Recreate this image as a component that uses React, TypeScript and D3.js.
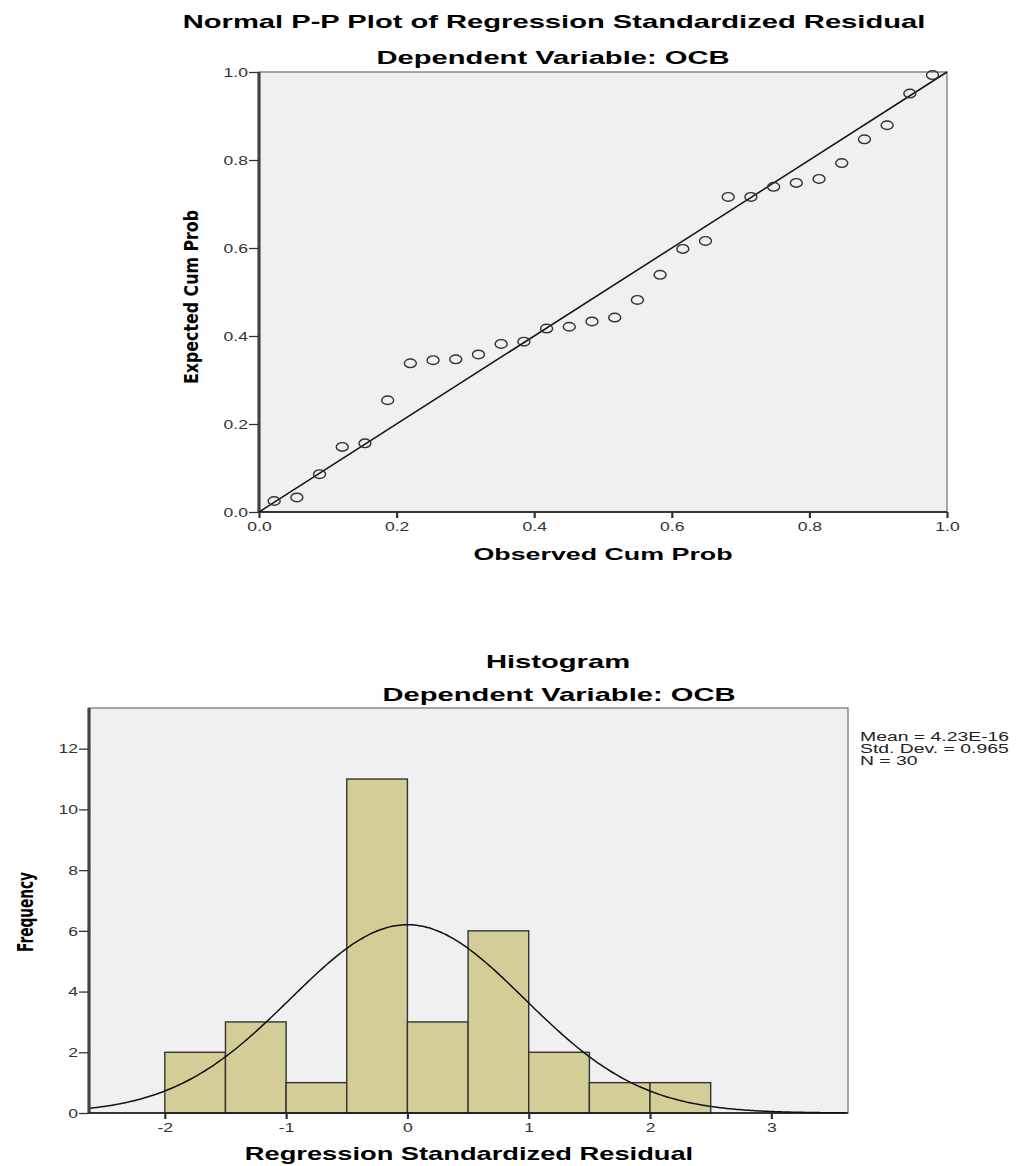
import React, { useRef, useEffect } from "react";
import * as d3 from "d3";

// P-P plot data
const ppObserved = [
  0.022, 0.055, 0.088, 0.121, 0.154, 0.187, 0.22, 0.253, 0.286, 0.319,
  0.352, 0.385, 0.418, 0.451, 0.484, 0.517, 0.55, 0.583, 0.616, 0.649,
  0.682, 0.715, 0.748, 0.781, 0.814, 0.847, 0.88, 0.913, 0.946, 0.979
];
const ppExpected = [
  0.025, 0.033, 0.086, 0.148, 0.156, 0.254, 0.338, 0.345, 0.347, 0.358,
  0.382, 0.387, 0.417, 0.421, 0.433, 0.442, 0.482, 0.539, 0.598, 0.616,
  0.716, 0.716, 0.739, 0.748, 0.757, 0.793, 0.847, 0.879, 0.951, 0.993
];
const ppTicks = [0, 0.2, 0.4, 0.6, 0.8, 1.0];

// histogram data
const binStarts = [-2, -1.5, -1, -0.5, 0, 0.5, 1, 1.5, 2];
const binCounts = [2, 3, 1, 11, 3, 6, 2, 1, 1];
const binWidth = 0.5;
const histXTicks = [-2, -1, 0, 1, 2, 3];
const histYTicks = [0, 2, 4, 6, 8, 10, 12];
const statLabels = ["Mean = 4.23E-16", "Std. Dev. = 0.965", "N = 30"];
const resMean = 4.23e-16;
const resSd = 0.965;
const resN = 30;

const SX = 1.55; // the original picture is stretched horizontally
const TICK_SX = 1.35;
const FONT = "'Liberation Sans', Arial, sans-serif";
const NARROW = "'Liberation Sans Narrow', 'DejaVu Sans Condensed', 'Arial Narrow', sans-serif";
const BG = "#f0f0f0";
const BAR = "#d3ce97";

export default function App() {
  const ref = useRef<SVGSVGElement>(null);

  useEffect(() => {
    const svg = d3.select(ref.current);
    svg.selectAll("*").remove();

    // stretched text helper
    const label = (g, txt, x, y, size, opts: any = {}) =>
      g
        .append("text")
        .text(txt)
        .attr("transform", `translate(${x},${y}) scale(${opts.sx ?? SX},1)`)
        .attr("text-anchor", opts.anchor ?? "middle")
        .attr("font-family", FONT)
        .attr("font-weight", opts.weight ?? "bold")
        .attr("font-size", size)
        .attr("fill", opts.fill ?? "#000");

    const vLabel = (g, txt, x, y, size, len) =>
      g
        .append("text")
        .text(txt)
        .attr("transform", `translate(${x},${y}) rotate(-90)`)
        .attr("text-anchor", "middle")
        .attr("font-family", NARROW)
        .attr("font-weight", "bold")
        .attr("font-size", size)
        .attr("textLength", len)
        .attr("lengthAdjust", "spacingAndGlyphs");

    const styleAxis = (ax, vertical) => {
      ax.select(".domain").remove();
      ax.selectAll(".tick line").attr("stroke", "#333").attr("stroke-width", vertical ? 1.3 : 2.2);
      ax.selectAll(".tick text")
        .attr("font-family", FONT)
        .attr("font-size", 13)
        .attr("fill", "#333");
    };

    const frame = (g, x0, x1, y0, y1) => {
      g.append("rect")
        .attr("x", x0).attr("y", y0)
        .attr("width", x1 - x0).attr("height", y1 - y0)
        .attr("fill", BG)
        .attr("stroke", "#777")
        .attr("stroke-width", 1.3);
    };
    const axisLines = (g, x0, x1, y0, y1) => {
      g.append("line").attr("x1", x0).attr("x2", x0).attr("y1", y0).attr("y2", y1)
        .attr("stroke", "#444").attr("stroke-width", 3.2);
      g.append("line").attr("x1", x0).attr("x2", x1).attr("y1", y1).attr("y2", y1)
        .attr("stroke", "#111").attr("stroke-width", 1.6);
    };

    // ---------- Normal P-P plot ----------
    const pp = svg.append("g");
    const px = d3.scaleLinear().domain([0, 1]).range([259, 947]);
    const py = d3.scaleLinear().domain([0, 1]).range([512, 72]);

    label(pp, "Normal P-P Plot of Regression Standardized Residual", 554, 28, 18.8);
    label(pp, "Dependent Variable: OCB", 553, 64, 18.8);

    frame(pp, px(0), px(1), py(1), py(0));

    pp.append("line")
      .attr("x1", px(0)).attr("y1", py(0))
      .attr("x2", px(1)).attr("y2", py(1))
      .attr("stroke", "#111").attr("stroke-width", 1.5);

    pp.append("g")
      .selectAll("ellipse")
      .data(ppObserved.map((o, i) => [o, ppExpected[i]]))
      .join("ellipse")
      .attr("cx", (d) => px(d[0]))
      .attr("cy", (d) => py(d[1]))
      .attr("rx", 6)
      .attr("ry", 4.3)
      .attr("fill", "none")
      .attr("stroke", "#333")
      .attr("stroke-width", 1.4);

    axisLines(pp, px(0), px(1), py(1), py(0));

    const ppY = pp.append("g").attr("transform", `translate(${px(0)},0)`)
      .call(d3.axisLeft(py).tickValues(ppTicks).tickSize(10).tickPadding(1).tickFormat(d3.format(".1f")));
    styleAxis(ppY, true);
    ppY.selectAll(".tick text").attr("x", -11 / TICK_SX).attr("transform", `scale(${TICK_SX},1)`);

    const ppX = pp.append("g").attr("transform", `translate(0,${py(0)})`)
      .call(d3.axisBottom(px).tickValues(ppTicks).tickSize(6).tickPadding(4).tickFormat(d3.format(".1f")));
    styleAxis(ppX, false);
    ppX.selectAll(".tick text").attr("transform", `scale(${TICK_SX},1)`);

    label(pp, "Observed Cum Prob", 603, 560, 17.3);
    vLabel(pp, "Expected Cum Prob", 198, 297, 20, 174);

    // ---------- Histogram ----------
    const hg = svg.append("g");
    const hx = d3.scaleLinear().domain([-2.625, 3.632]).range([89, 848]);
    const hy = d3.scaleLinear().domain([0, 13.34]).range([1113, 708]);

    label(hg, "Histogram", 558, 668, 18.8);
    label(hg, "Dependent Variable: OCB", 559, 701, 18.8);

    frame(hg, hx.range()[0], hx.range()[1], hy.range()[1], hy.range()[0]);

    hg.append("g")
      .selectAll("rect")
      .data(binStarts.map((s, i) => ({ s, c: binCounts[i] })))
      .join("rect")
      .attr("x", (d) => hx(d.s))
      .attr("y", (d) => hy(d.c))
      .attr("width", (d) => hx(d.s + binWidth) - hx(d.s))
      .attr("height", (d) => hy(0) - hy(d.c))
      .attr("fill", BAR)
      .attr("stroke", "#333")
      .attr("stroke-width", 1.4);

    // fitted normal curve from the reported mean / sd / N
    const xs = d3.range(hx.domain()[0], hx.domain()[1] + 0.001, 0.02);
    const dens = (x) =>
      (resN * binWidth / (resSd * Math.sqrt(2 * Math.PI))) *
      Math.exp(-0.5 * ((x - resMean) / resSd) ** 2);
    hg.append("path")
      .attr("d", d3.line<number>().x((x) => hx(x)).y((x) => hy(dens(x))).curve(d3.curveBasis)(xs))
      .attr("fill", "none")
      .attr("stroke", "#111")
      .attr("stroke-width", 1.5);

    axisLines(hg, hx.range()[0], hx.range()[1], hy.range()[1], hy.range()[0]);

    const hY = hg.append("g").attr("transform", `translate(${hx.range()[0]},0)`)
      .call(d3.axisLeft(hy).tickValues(histYTicks).tickSize(10).tickPadding(1).tickFormat((d) => String(d)));
    styleAxis(hY, true);
    hY.selectAll(".tick text").attr("x", -11 / TICK_SX).attr("transform", `scale(${TICK_SX},1)`);

    const hX = hg.append("g").attr("transform", `translate(0,${hy(0)})`)
      .call(d3.axisBottom(hx).tickValues(histXTicks).tickSize(6).tickPadding(4).tickFormat((d) => String(d)));
    styleAxis(hX, false);
    hX.selectAll(".tick text").attr("transform", `scale(${TICK_SX},1)`);

    label(hg, "Regression Standardized Residual", 469, 1160, 17.6);
    vLabel(hg, "Frequency", 33, 912, 21, 80);

    statLabels.forEach((t, i) => {
      label(hg, t, 860, 741 + i * 12, 12.5, { anchor: "start", weight: "normal", fill: "#222" });
    });
  }, []);

  return (
    <svg
      ref={ref}
      width={1019}
      height={1166}
      style={{ position: "absolute", left: 0, top: 0, background: "#fff" }}
    />
  );
}
